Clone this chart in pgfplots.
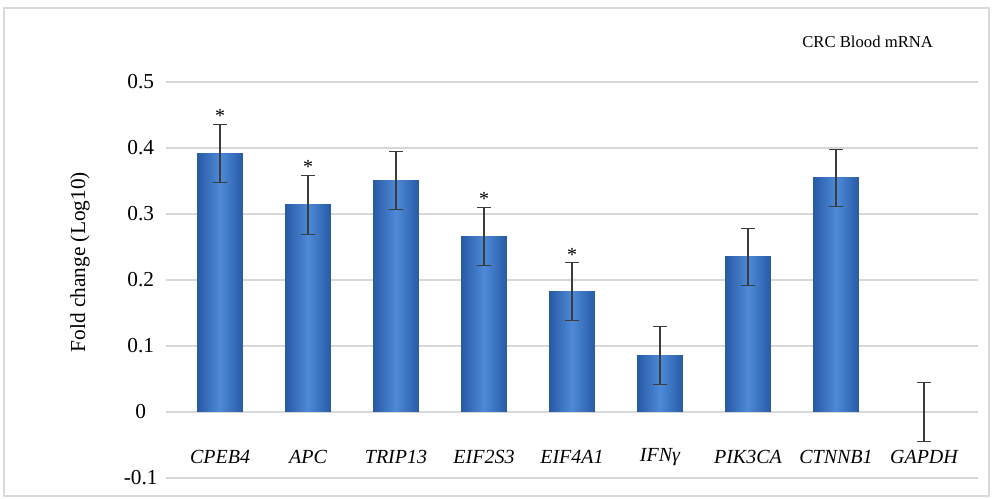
\documentclass[border=0pt]{standalone}
\usepackage{pgfplots}
\pgfplotsset{compat=1.18}
\usepackage{fontspec}
\setmainfont{Liberation Serif}
\definecolor{barmid}{RGB}{78,138,216}
\definecolor{baredge}{RGB}{40,90,165}
\definecolor{gridc}{RGB}{215,215,215}
\definecolor{errc}{RGB}{60,60,60}
\pgfplotsset{
  mybar/.style={ybar, bar shift=0pt, bar width=0.52, draw=none,
    left color=baredge, right color=baredge, middle color=barmid,
    error bars/.cd, y dir=both, y explicit,
    error bar style={draw=errc, line width=0.8pt},
    error mark options={draw=errc, line width=0.8pt, mark size=5pt, rotate=90}},
}
\begin{document}
\begin{tikzpicture}[x=0.75pt,y=0.75pt]
\useasboundingbox (0,0) rectangle (992,499);
\draw[gray!30, line width=1.2pt] (4,3) rectangle (989,491);
\begin{axis}[
  at={(124.5pt,15.75pt)}, anchor=south west,
  scale only axis, width=609pt, height=297pt,
  xmin=-0.614, xmax=8.614, ymin=-0.1, ymax=0.5,
  ytick={-0.1,0,0.1,0.2,0.3,0.4,0.5},
  yticklabels={-0.1,0,0.1,0.2,0.3,0.4,0.5},
  xtick={0,1,2,3,4,5,6,7,8},
  xticklabels={CPEB4,APC,TRIP13,EIF2S3,EIF4A1,IFNγ,PIK3CA,CTNNB1,GAPDH},
  xticklabel style={font=\itshape\fontsize{15}{17}\selectfont, anchor=center, yshift=15.75pt},
  yticklabel style={font=\fontsize{16}{18}\selectfont, anchor=center, xshift=-19pt},
  ymajorgrids, grid style={draw=gridc, line width=1pt},
  axis line style={draw=none},
  major tick length=0pt,
  clip=false,
  ylabel={Fold change (Log10)},
  ylabel style={font=\fontsize{16}{18}\selectfont, at={(rel axis cs:-0.106,0.545)}, anchor=center},
]
\addplot[mybar] coordinates {(0,0.392) +- (0,0.044)};
\addplot[mybar] coordinates {(1,0.314) +- (0,0.045)};
\addplot[mybar] coordinates {(2,0.351) +- (0,0.044)};
\addplot[mybar] coordinates {(3,0.266) +- (0,0.044)};
\addplot[mybar] coordinates {(4,0.182) +- (0,0.044)};
\addplot[mybar] coordinates {(5,0.086) +- (0,0.044)};
\addplot[mybar] coordinates {(6,0.235) +- (0,0.043)};
\addplot[mybar] coordinates {(7,0.355) +- (0,0.043)};
\addplot[mybar] coordinates {(8,0.000) +- (0,0.044)};
\addplot[draw=none, mark=none, nodes near coords={*},
  every node near coord/.append style={font=\fontsize{15}{17}\selectfont, anchor=south, inner sep=1pt}]
  coordinates {(0,0.436) (1,0.359) (3,0.310) (4,0.226)};
\node[font=\fontsize{12.5}{14}\selectfont] at (axis cs:7.36,0.561) {CRC Blood mRNA};
\end{axis}
\end{tikzpicture}
\end{document}
